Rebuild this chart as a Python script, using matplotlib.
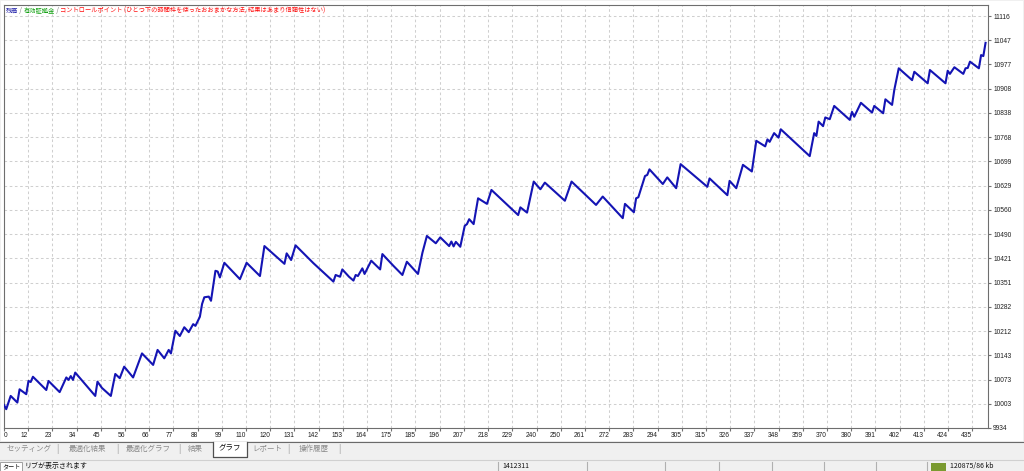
import numpy as np
import matplotlib
matplotlib.use('Agg')
from matplotlib import pyplot as plt
from matplotlib.patches import Rectangle
from matplotlib.lines import Line2D

plt.rcParams['font.family'] = ['Noto Sans CJK JP', 'DejaVu Sans']

# balance curve, vertices (trade number, balance)
trade_no = [0, 1, 3, 6, 7, 10, 11, 12, 13, 19,
            20, 25, 28, 29, 30, 31, 32, 41, 42, 44,
            48, 50, 52, 54, 58, 62, 67, 69, 72, 74,
            75, 77, 79, 81, 83, 85, 86, 88, 89, 90,
            92, 93, 95, 96, 97, 99, 106, 109, 115, 117,
            126, 127, 129, 131, 139, 148, 149, 151, 152, 155,
            157, 158, 159, 161, 162, 165, 169, 170, 175, 179,
            181, 186, 188, 190, 194, 196, 200, 201, 202, 203,
            205, 207, 208, 209, 211, 213, 217, 219, 231, 232,
            235, 238, 241, 243, 252, 255, 266, 269, 278, 279,
            283, 284, 285, 288, 289, 290, 296, 298, 302, 304,
            316, 317, 325, 326, 329, 332, 336, 338, 342, 343,
            344, 346, 348, 349, 362, 364, 365, 366, 368, 369,
            371, 373, 380, 381, 382, 385, 390, 391, 395, 396,
            399, 400, 402, 408, 409, 415, 416, 423, 424, 425,
            427, 431, 432, 433, 434, 438, 439, 440, 441]
balance = [10000, 9988, 10026, 10007, 10045, 10031, 10069, 10066, 10081, 10043,
           10069, 10037, 10079, 10072, 10083, 10072, 10093, 10026, 10067, 10049,
           10026, 10089, 10077, 10110, 10079, 10148, 10115, 10158, 10134, 10158,
           10148, 10213, 10198, 10223, 10209, 10232, 10227, 10253, 10290, 10309,
           10311, 10299, 10385, 10383, 10366, 10408, 10361, 10408, 10370, 10456,
           10405, 10435, 10416, 10458, 10407, 10354, 10373, 10368, 10389, 10368,
           10357, 10373, 10370, 10392, 10376, 10414, 10389, 10433, 10399, 10373,
           10411, 10376, 10437, 10485, 10464, 10481, 10456, 10469, 10455, 10468,
           10454, 10514, 10519, 10533, 10519, 10593, 10577, 10617, 10545, 10567,
           10552, 10641, 10619, 10638, 10586, 10641, 10574, 10598, 10536, 10577,
           10553, 10593, 10596, 10657, 10660, 10676, 10634, 10653, 10622, 10691,
           10626, 10650, 10602, 10643, 10622, 10689, 10670, 10758, 10742, 10762,
           10755, 10780, 10767, 10791, 10714, 10780, 10772, 10813, 10800, 10825,
           10820, 10858, 10818, 10841, 10827, 10867, 10839, 10858, 10837, 10877,
           10861, 10904, 10966, 10932, 10956, 10923, 10961, 10923, 10959, 10950,
           10969, 10950, 10966, 10967, 10985, 10966, 11004, 11001, 11039]

x_tick_labels = ['0', '12', '23', '34', '45', '56', '66', '77', '88', '99',
                 '110', '120', '131', '142', '153', '164', '175', '185', '196', '207',
                 '218', '229', '240', '250', '261', '272', '283', '294', '305', '315',
                 '326', '337', '348', '359', '370', '380', '391', '402', '413', '424', '435']
y_tick_labels = ['9934', '10003', '10073', '10143', '10212', '10282', '10351', '10421', '10490',
                 '10560', '10629', '10699', '10768', '10838', '10908', '10977', '11047', '11116']

legend_parts = ['残高', ' / ', '有効証拠金', ' / ',
                'コントロールポイント (ひとつ下の時間枠を使ったおおまかな方法, 結果はあまり信頼性はない)']
tab_names = ['セッティング', '最適化結果', '最適化グラフ', '結果', 'グラフ', 'レポート', '操作履歴']
status_texts = ['タート', 'リブが表示されます', '1412311', '120875/86 kb']

W, H = 1024, 471


def fx(px):
    return px / W


def fy(py):
    return 1 - py / H


fig = plt.figure(figsize=(W / 100, H / 100), dpi=100, facecolor='#f0f0f0')

# white chart panel
fig.patches.append(Rectangle((fx(1), fy(441)), fx(1023) - fx(1), fy(1) - fy(441),
                             transform=fig.transFigure, facecolor='white',
                             edgecolor='none', zorder=-5))
fig.lines.append(Line2D([fx(0), fx(1024)], [fy(441.5), fy(441.5)], transform=fig.transFigure,
                        color='#6a6a6a', lw=0.8, zorder=-4))

ax = fig.add_axes([fx(4), fy(428), fx(988) - fx(4), fy(5) - fy(428)])
ax.set_facecolor('white')

x_ticks = np.arange(len(x_tick_labels)) * 10.875
y_ticks = 9934 + np.arange(len(y_tick_labels)) * 69.53
ax.set_xlim(0, 442.1)
ax.set_ylim(9934, 11147.6)

ax.plot(trade_no, balance, color='#1414b4', lw=1.5, solid_joinstyle='round', zorder=3)

ax.set_xticks(x_ticks, x_tick_labels)
ax.yaxis.tick_right()
ax.set_yticks(y_ticks, y_tick_labels)
ax.grid(True, color='#cfcfcf', linestyle=(0, (2.5, 2.5)), linewidth=0.75)
ax.tick_params(axis='x', length=2, pad=1, labelsize=4.8, color='#707070', labelcolor='#202020')
ax.tick_params(axis='y', length=2.5, pad=1.2, labelsize=4.8, color='#707070', labelcolor='#202020')
for lbl in ax.get_xticklabels():
    lbl.set_ha('right')
    lbl.set_fontfamily('Liberation Sans')
ax.get_xticklabels()[0].set_ha('left')
for lbl in ax.get_yticklabels():
    lbl.set_fontfamily('Liberation Sans')
for sp in ax.spines.values():
    sp.set_color('#6e6e6e')
    sp.set_linewidth(0.8)

# legend line at top left
renderer = fig.canvas.get_renderer()
part_colors = ['#1a1aa6', '#707070', '#10a010', '#707070', '#ff1010']
x = fx(6)
for s, c in zip(legend_parts, part_colors):
    t = fig.text(x, fy(11), s, color=c, fontsize=4.5, va='center', ha='left')
    x += t.get_window_extent(renderer).width / W

# tab bar
tab_centers = [29, 87, 148, 195, 230, 267, 314]
fig.patches.append(Rectangle((fx(213), fy(457)), fx(247) - fx(213), fy(441.5) - fy(457),
                             transform=fig.transFigure, facecolor='white', edgecolor='none', zorder=1))
fig.lines.append(Line2D([fx(213), fx(213), fx(247), fx(247)], [fy(441.5), fy(457), fy(457), fy(441.5)],
                        transform=fig.transFigure, color='#505050', lw=0.9, zorder=2))
for name, cx in zip(tab_names, tab_centers):
    col = '#101010' if name == 'グラフ' else '#8a8a8a'
    fig.text(fx(cx), fy(448.5), name, color=col, fontsize=5.4, ha='center', va='center')
for sx in [57, 117, 179, 288, 339]:
    fig.text(fx(sx), fy(448.5), '|', color='#8a8a8a', fontsize=5.8, ha='center', va='center')

# status bar
fig.lines.append(Line2D([fx(0), fx(1024)], [fy(460), fy(460)], transform=fig.transFigure,
                        color='#d0d0d0', lw=0.8))
fig.patches.append(Rectangle((fx(0), fy(471)), fx(22), fy(462) - fy(471),
                             transform=fig.transFigure, facecolor='white', edgecolor='#a0a0a0', lw=0.7))
for sx in [498, 587, 665, 719, 772, 824, 876, 927]:
    fig.lines.append(Line2D([fx(sx), fx(sx)], [fy(462), fy(471)], transform=fig.transFigure,
                            color='#b0b0b0', lw=0.8))
fig.patches.append(Rectangle((fx(931), fy(471)), fx(15), fy(463) - fy(471),
                             transform=fig.transFigure, facecolor='#7a9a30', edgecolor='none'))
for s, px, fs in zip(status_texts, [2, 25, 502, 950], [4.4, 5.0, 5.0, 5.0]):
    fig.text(fx(px), fy(466.2), s, color='#101010', fontsize=fs, ha='left', va='center')

fig.savefig('out.png', dpi=100, facecolor=fig.get_facecolor())
